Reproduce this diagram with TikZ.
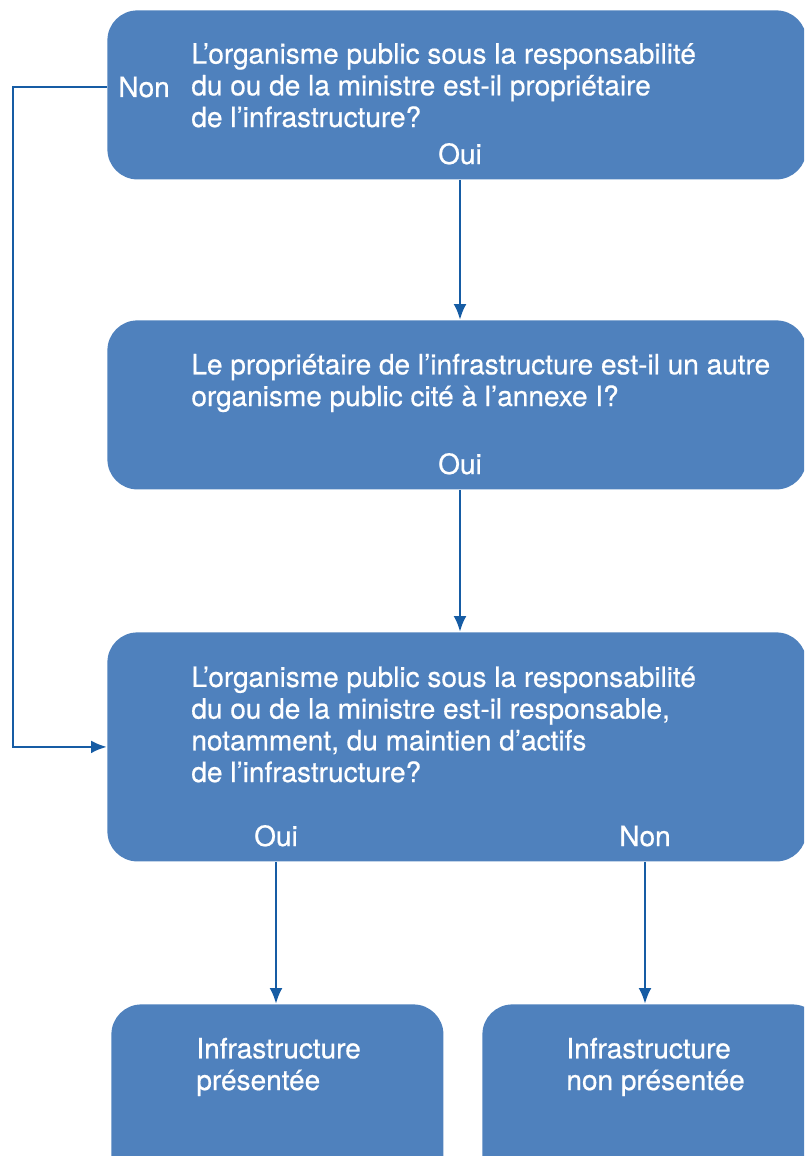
\documentclass[tikz,border=0pt]{standalone}
\usepackage{fontspec}
\setmainfont{TeX Gyre Heros}
\newfontfamily\medfont{TeX Gyre Heros}[FakeBold=0.6]
\usetikzlibrary{arrows.meta}
\definecolor{boxblue}{RGB}{79,129,189}
\definecolor{lineblue}{RGB}{22,92,164}

\begin{document}
\begin{tikzpicture}[x=0.5pt, y=-0.5pt, >={Latex[length=8pt,width=6.5pt]},
  box/.style={fill=boxblue, draw=none, rounded corners=15pt, anchor=north west, inner sep=0pt},
  txt/.style={text=white, font=\medfont\fontsize{14}{15.85}\selectfont, anchor=base west, align=left, inner sep=0pt},
  ans/.style={text=white, font=\medfont\fontsize{14}{15.85}\selectfont, anchor=base, inner sep=0pt},
  link/.style={draw=lineblue, line width=1.35pt}]

  \useasboundingbox (0,0) rectangle (804,1156);
  \clip (0,0) rectangle (804,1156);

  % Question boxes
  \node[box, minimum width=349.5pt, minimum height=84.5pt] (q1) at (107,10) {};
  \node[box, minimum width=349.5pt, minimum height=84.5pt] (q2) at (107,320) {};
  \node[box, minimum width=349.5pt, minimum height=114.5pt] (q3) at (107,632) {};

  % Result boxes (cut by the page edge)
  \node[box, minimum width=166pt, minimum height=90pt] (r1) at (111,1004) {};
  \node[box, minimum width=170pt, minimum height=90pt] (r2) at (482,1004) {};

  % Texts (base = last line)
  \node[txt] (q1txt) at (191,127) {L’organisme public sous la responsabilité\\du ou de la ministre est-il propriétaire\\de l’infrastructure?};
  \node[txt] (q1non) at (118,97) {Non};
  \node[ans] (q1oui) at (460,164) {Oui};

  \node[txt] (q2txt) at (191,406) {Le propriétaire de l’infrastructure est-il un autre\\organisme public cité à l’annexe I?};
  \node[ans] (q2oui) at (460,474) {Oui};

  \node[txt] (q3txt) at (191,782) {L’organisme public sous la responsabilité\\du ou de la ministre est-il responsable,\\notamment, du maintien d’actifs\\de l’infrastructure?};
  \node[ans] (q3oui) at (276,846) {Oui};
  \node[ans] (q3non) at (645,846) {Non};

  \node[txt] (r1txt) at (196,1090) {Infrastructure\\présentée};
  \node[txt] (r2txt) at (566,1090) {Infrastructure\\non présentée};

  % Connectors
  \draw[link, ->] (q1oui |- q1.south) -- (q1oui |- q2.north);
  \draw[link, ->] (q2oui |- q2.south) -- (q2oui |- q3.north);
  \draw[link, ->] (q3oui |- q3.south) -- (q3oui |- r1.north);
  \draw[link, ->] (q3non |- q3.south) -- (q3non |- r2.north);

  % "Non" of the first question goes round to the third one
  \coordinate (bend) at (13,0);
  \draw[link, ->] (q1.west |- q1non.center) -- (bend |- q1non.center) |- (q3.west);
\end{tikzpicture}
\end{document}
